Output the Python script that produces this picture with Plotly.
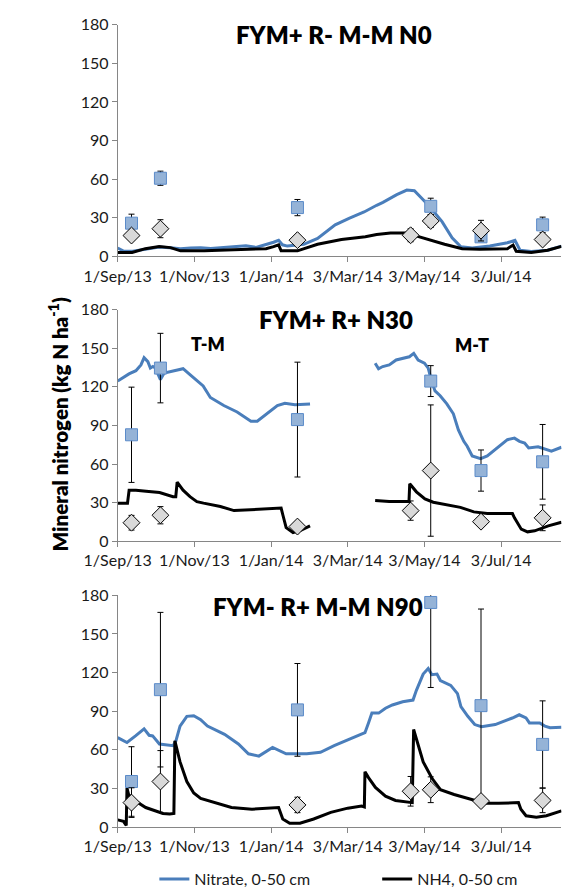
import datetime as dt
import plotly.graph_objects as go

BASE = dt.datetime(2013, 9, 1)

def to_dates(days):
    return [None if d is None else BASE + dt.timedelta(days=d) for d in days]

# ---------------- Panel 1: FYM+ R- M-M N0 ----------------
p1_no3_days = [0, 5, 12, 22, 33, 44, 50, 58, 66, 74, 84, 94, 102, 110, 118, 124, 128, 131, 135, 148,
               159, 173, 184, 196, 206, 211, 222, 230, 236, 247, 258, 266, 273, 282, 296, 310, 316, 320, 329, 342, 353]
p1_no3_vals = [6.5, 4, 4, 5.5, 7.3, 6.5, 6, 6.5, 6.8, 6.2, 7, 7.5, 8.2, 7, 9, 11, 12.5, 9, 8, 9.4,
               14, 24.5, 29.6, 34.5, 39.7, 42, 48, 51.5, 51, 40, 27, 14.4, 7.5, 6.5, 8, 10.6, 12.5, 4.8, 3.8, 4.8, 8]
p1_nh4_days = [0, 11.5, 22, 33, 42, 50, 69, 96, 118, 124, 128, 130, 143, 159, 178, 197, 206, 217, 230, 238,
               247, 260, 274, 288, 310, 314.5, 317, 329, 342, 353]
p1_nh4_vals = [3, 3, 6, 7.6, 6.8, 4.3, 4.3, 5, 6, 7.6, 9, 4.3, 4.3, 9.4, 13.1, 15.2, 17, 18.2, 18.2, 15.7,
               13.1, 9.4, 6, 5.6, 6, 8.8, 4, 3, 4.8, 7.8]
p1_obs_no3_days = [11, 34, 143, 249, 289, 338]
p1_obs_no3_vals = [25.8, 60.7, 37.9, 38.9, 15.2, 24.5]
p1_obs_no3_err = [7, 5.5, 6.3, 6.3, 3, 6]
p1_obs_nh4_days = [11, 34, 143, 233, 249, 289, 338]
p1_obs_nh4_vals = [16.2, 21.5, 12.6, 16.4, 27.5, 20, 13.1]
p1_obs_nh4_err = [3, 7, 3, 5, 5, 8, 3]

# ---------------- Panel 2: FYM+ R+ N30 (two segments) ----------------
p2_no3_days = [0, 9, 14.5, 18.5, 21, 24, 26, 28, 30, 34, 37, 44, 49.5, 52, 57.5, 63, 68, 73.7, 84.4, 95,
               100.5, 106, 111, 119, 127, 133, 141, 153,
               None,
               204.8, 207.5, 210.8, 216, 221.5, 227, 232, 235.5, 239, 244, 247, 249.7, 252.4, 256.5, 261.8, 267,
               271, 275.3, 278, 282, 288.7, 294, 302, 310, 315.6, 319.6, 323.7, 326.9, 334.4, 341, 345, 353]
p2_no3_vals = [124.4, 130, 132.5, 137, 142.6, 139.5, 134.5, 135.7, 134.5, 125.6, 130.7, 132, 133, 134, 129.4,
               125, 120.6, 111.7, 105.4, 100.4, 97, 93.3, 93.3, 99, 105.4, 107.2, 106, 106.7,
               None,
               138.3, 134, 135.7, 137, 140.8, 142, 143.3, 145.9, 140.8, 138.3, 134.5, 124.4, 116.8, 113, 106.7, 99,
               86.5, 77.6, 73.8, 66.2, 64.2, 66.2, 72.5, 78.9, 80.1, 77.6, 76.3, 72.5, 73.3, 71.3, 70, 73]
p2_nh4_days = [0, 7.8, 9.1, 14.5, 22.6, 33.3, 44, 46.2, 47.3, 52, 57.5, 63, 68.3, 81.7, 92.5, 106, 122, 130,
               131.5, 134, 139.5, 146, 153,
               None,
               204.8, 216, 231.7, 232.3, 237.6, 244.4, 251, 261.8, 272.6, 283.3, 294, 314, 315.6, 321, 326,
               331.7, 342.5, 353]
p2_nh4_vals = [29.6, 29.6, 39.7, 39.7, 38.9, 37.9, 34.6, 34.6, 46, 39.7, 34.6, 30.8, 29.6, 27, 23.8, 24.5, 25.3,
               25.8, 20, 10.6, 6.8, 8.6, 11.9,
               None,
               31.6, 30.8, 30.8, 44.7, 38.4, 32.9, 30.3, 28.3, 26.3, 22.8, 21.5, 21.5, 18.2, 9.4, 7.3,
               8.1, 11.9, 14.8]
p2_obs_no3_days = [11, 34, 143, 249, 289, 338]
p2_obs_no3_vals = [82.7, 134.5, 94.5, 124.4, 54.9, 61.7]
p2_obs_no3_err = [37, 27, 44.6, 12, 16, 29]
p2_obs_nh4_days = [11, 34, 143, 233, 249, 289, 338]
p2_obs_nh4_vals = [14.4, 20.2, 11.4, 23.8, 54.9, 15.2, 18.2]
p2_obs_nh4_err = [5.7, 6.7, 2, 7.5, 51, 2, 10]

# ---------------- Panel 3: FYM- R+ M-M N90 ----------------
p3_no3_days = [0, 7.4, 14.2, 21, 25, 27.8, 33.2, 44.1, 46.3, 49.6, 55, 60.5, 66, 71.4, 85, 96, 104, 112.3,
               123.2, 128.6, 134, 150.4, 161.3, 172.2, 185.8, 196.7, 199.5, 202.2, 207.6, 213, 218.5, 226.7,
               234.9, 237.6, 243, 247, 249.9, 254, 256.7, 264.9, 270.3, 273, 278.5, 284, 289.4, 300.3, 313.9,
               319.4, 324.8, 327.5, 335.7, 339.8, 343.9, 353]
p3_no3_vals = [69.5, 65.7, 70.8, 76.3, 71.3, 70.8, 64.5, 63.2, 67, 78.4, 86, 86.5, 83.4, 78.4, 72, 64.5, 56.9,
               55.1, 61.9, 59.4, 56.9, 56.9, 58.1, 63.2, 68.8, 73.3, 80.9, 88.5, 88.5, 92.3, 94.8, 97.3,
               98.6, 106.2, 118.8, 123.1, 118.3, 118.8, 113.8, 110, 103.6, 93.5, 86, 79.6, 77.9, 79.6, 84.7,
               87.2, 84.7, 80.9, 80.9, 78.4, 77.1, 77.5]
p3_nh4_days = [0, 4.6, 6.8, 7.4, 8.7, 14.2, 22.3, 30.5, 36, 41.4, 44.7, 45.5, 49.6, 55, 60.5, 66, 76.8, 90.5,
               106.8, 123.2, 128, 131.3, 136.8, 145, 155.9, 169.5, 183, 194, 196.2, 196.7, 199.5, 205, 213,
               221, 232, 234.3, 235.4, 237.6, 243, 250, 256.7, 267.6, 284, 292, 303, 318.8, 320.7, 324.8,
               333, 341, 353]
p3_nh4_vals = [5.6, 4.5, 1.3, 30.3, 25.3, 20.2, 15.2, 12.1, 10.6, 10.1, 10.6, 67, 50.6, 35.4, 26.5, 22.2, 19,
               15.2, 13.9, 14.7, 15.2, 6.3, 3, 3, 6.3, 11.4, 14.7, 16.4, 15.7, 43, 38.4, 30.8, 24,
               20.7, 19, 19, 75.8, 68.3, 50.6, 37.9, 29, 25.3, 20.7, 18.5, 18.5, 19, 13.9, 8.8,
               7.6, 8.8, 12.6]
p3_obs_no3_days = [11, 34, 143, 249, 289, 338]
p3_obs_no3_vals = [35.4, 106.7, 91, 174.4, 94.3, 64.2]
p3_obs_no3_err = [27, 60, 36, 66, 75, 33.8]
p3_obs_nh4_days = [11, 34, 143, 233, 249, 289, 338]
p3_obs_nh4_vals = [19, 35.4, 17.2, 27.8, 29, 20.2, 20.7]
p3_obs_nh4_err = [11.5, 24, 6, 11.5, 10, 2, 9.5]

# ---------------- Axis labels ----------------
tick_dates = ["2013-09-01", "2013-11-01", "2014-01-01", "2014-03-03", "2014-05-03", "2014-07-03"]
tick_text = ["1/Sep/13", "1/Nov/13", "1/Jan/14", "3/Mar/14", "3/May/14", "3/Jul/14"]
y_ticks = [0, 30, 60, 90, 120, 150, 180]
panel_titles = ["FYM+ R- M-M N0", "FYM+ R+ N30", "FYM- R+ M-M N90"]
sub_labels = ["T-M", "M-T"]
legend_names = ["Nitrate, 0-50 cm", "NH4, 0-50 cm"]

W, H = 569, 896
FONT = "Lato"
NO3_COLOR = "#4A7EBB"
AXIS_COLOR = "#868686"

panels = [
    (p1_no3_days, p1_no3_vals, p1_nh4_days, p1_nh4_vals, p1_obs_no3_days, p1_obs_no3_vals, p1_obs_no3_err,
     p1_obs_nh4_days, p1_obs_nh4_vals, p1_obs_nh4_err),
    (p2_no3_days, p2_no3_vals, p2_nh4_days, p2_nh4_vals, p2_obs_no3_days, p2_obs_no3_vals, p2_obs_no3_err,
     p2_obs_nh4_days, p2_obs_nh4_vals, p2_obs_nh4_err),
    (p3_no3_days, p3_no3_vals, p3_nh4_days, p3_nh4_vals, p3_obs_no3_days, p3_obs_no3_vals, p3_obs_no3_err,
     p3_obs_nh4_days, p3_obs_nh4_vals, p3_obs_nh4_err),
]

# pixel layout of each panel: (px of 180, px of 0)
panel_px = [(15, 252.3), (306.7, 544), (599.3, 836.7)]
x_left_px, x_right_px = 89, 561

fig = go.Figure()
layout = dict(
    width=W, height=H,
    margin=dict(l=0, r=0, t=0, b=0),
    paper_bgcolor="white", plot_bgcolor="white",
    font=dict(family=FONT, size=16, color="#1a1a1a"),
    showlegend=True,
)

annotations = []
for i, (nd, nv, hd, hv, ond, onv, one, ohd, ohv, ohe) in enumerate(panels):
    k = "" if i == 0 else str(i + 1)
    xa, ya = "x" + k, "y" + k
    fig.add_trace(go.Scatter(x=to_dates(nd), y=nv, mode="lines", name=legend_names[0],
                             line=dict(color=NO3_COLOR, width=3), connectgaps=False,
                             showlegend=(i == 0), legend="legend", xaxis=xa, yaxis=ya))
    fig.add_trace(go.Scatter(x=to_dates(hd), y=hv, mode="lines", name=legend_names[1],
                             line=dict(color="black", width=3), connectgaps=False,
                             showlegend=(i == 0), legend="legend2", xaxis=xa, yaxis=ya))
    fig.add_trace(go.Scatter(x=to_dates(ond), y=onv, mode="markers", showlegend=False,
                             marker=dict(symbol="square", size=12, color="#95B3D7",
                                         line=dict(color="#5B8BC9", width=1)),
                             error_y=dict(type="data", array=one, color="black", thickness=1, width=3),
                             xaxis=xa, yaxis=ya))
    fig.add_trace(go.Scatter(x=to_dates(ohd), y=ohv, mode="markers", showlegend=False,
                             marker=dict(symbol="diamond", size=13, color="#D9D9D9",
                                         line=dict(color="black", width=1)),
                             error_y=dict(type="data", array=ohe, color="black", thickness=1, width=3),
                             xaxis=xa, yaxis=ya))
    top, bot = panel_px[i]
    layout["xaxis" + k] = dict(
        domain=[x_left_px / W, x_right_px / W], anchor=ya, type="date",
        range=["2013-09-01", "2014-08-20"], tickvals=tick_dates, ticktext=tick_text,
        showgrid=False, zeroline=False, showline=True, linecolor=AXIS_COLOR, linewidth=1,
        ticks="outside", ticklen=5, tickcolor=AXIS_COLOR, tickfont=dict(size=16),
    )
    layout["yaxis" + k] = dict(
        domain=[1 - bot / H, 1 - top / H], anchor=xa, range=[0, 180], tickvals=y_ticks,
        showgrid=False, zeroline=False, showline=True, linecolor=AXIS_COLOR, linewidth=1,
        ticks="outside", ticklen=5, tickcolor=AXIS_COLOR, tickfont=dict(size=16),
    )

title_pos = [(319, 25), (321, 317), (302, 611)]
for t, (px, py) in zip(panel_titles, title_pos):
    annotations.append(dict(text=t, x=px / W, y=1 - py / H, xref="paper", yref="paper",
                            showarrow=False, font=dict(size=24, color="black", weight=800),
                            xanchor="center", yanchor="middle"))
for t, (px, py) in zip(sub_labels, [(185, 342), (466, 343)]):
    annotations.append(dict(text=t, x=px / W, y=1 - py / H, xref="paper", yref="paper",
                            showarrow=False, font=dict(size=18, color="black", weight=800),
                            xanchor="center", yanchor="middle"))
annotations.append(dict(text="Mineral nitrogen (kg N ha<sup>-1</sup>)", x=26 / W, y=1 - 424 / H,
                        xref="paper", yref="paper", showarrow=False, textangle=-90,
                        font=dict(size=20.5, color="black", weight=800),
                        xanchor="center", yanchor="middle"))

layout["annotations"] = annotations
leg_common = dict(orientation="h", xanchor="left", y=1 - 890 / H, yanchor="middle",
                  font=dict(size=16), bgcolor="rgba(0,0,0,0)", itemwidth=30)
layout["legend"] = dict(x=128 / W, **leg_common)
layout["legend2"] = dict(x=365 / W, **leg_common)
fig.update_layout(**layout)
fig.write_html("out.html")
